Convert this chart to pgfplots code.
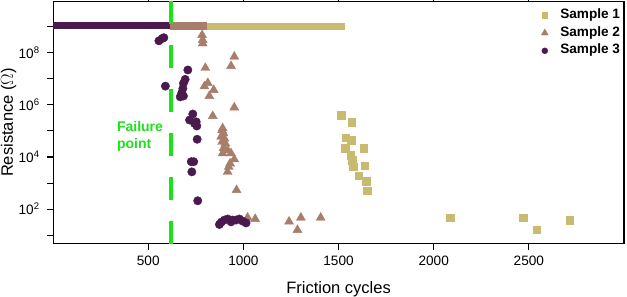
\documentclass[border=0pt]{standalone}
\usepackage{fontspec}
\setmainfont{Liberation Sans}
\usepackage{pgfplots}
\pgfplotsset{compat=1.18}
\definecolor{cA}{RGB}{200,186,110}
\definecolor{cB}{RGB}{168,125,106}
\definecolor{cC}{RGB}{74,26,78}
\definecolor{fgreen}{RGB}{30,225,30}
\begin{document}
\begin{tikzpicture}
\begin{axis}[
 scale only axis, width=570.9pt, height=242.2pt,
 at={(0,0)}, anchor=south west,
 xmin=0, xmax=3000, ymin=4.7, ymax=9.3e9, ymode=log,
 axis line style={line width=1.1pt},
 every tick/.style={black, line width=1.1pt},
 major tick length=6pt, tick align=outside,
 ytick pos=left,
 xtick={500,1000,1500,2000,2500},
 ytick={10,100,1000,1e4,1e5,1e6,1e7,1e8,1e9},
 yticklabels={,10\textsuperscript{2},,10\textsuperscript{4},,10\textsuperscript{6},,10\textsuperscript{8},},
 yminorticks=false,
 /pgf/number format/assume math mode=true,
 /pgf/number format/1000 sep={},
 tick label style={font=\fontsize{13.6}{16}\selectfont},
 xticklabel style={yshift=-3pt},
 yticklabel style={xshift=-4pt},
 label style={font=\fontsize{16.5}{19}\selectfont},
 xlabel={Friction cycles},
 ylabel={Resistance ($\Omega$)},
 xlabel style={at={(axis description cs:0.5,0)}, anchor=base, yshift=-49.5pt},
 ylabel style={at={(axis description cs:0,0.5)}, anchor=center, rotate=0, yshift=44.6pt},
 legend style={draw=none, fill=none, inner sep=0pt, outer sep=0pt,
   at={(rel axis cs:1,1)}, anchor=north east, xshift=-2.5pt, yshift=-4.8pt,
   font=\bfseries\fontsize{13.6}{16}\selectfont, column sep=10.5pt,
   nodes={inner sep=1.5pt, text height=10.5pt, text depth=4.3pt}},
 legend cell align=left,
]
% plateau bands
\addplot[cA, line width=6.7pt, forget plot] coordinates {(805,1.0e9) (1533,1.0e9)};
\addplot[cB, line width=8pt, forget plot] coordinates {(612,1.1e9) (808,1.1e9)};
\addplot[cC, line width=7.6pt, forget plot] coordinates {(-20,1.1e9) (612,1.1e9)};
% failure line
\addplot[fgreen, line width=3.8pt, dash pattern=on 23pt off 21pt, forget plot] coordinates {(620,4.7) (620,9.3e9)};
% Sample 1
\addplot[only marks, mark=square*, mark size=3.7pt, mark options={draw=cA, fill=cA}, legend image post style={mark size=2.8pt}] coordinates {
(1514,4.07e5) (1569,2.19e5) (1537,5.62e4) (1566,4.47e4) (1534,2.14e4) (1633,2.14e4)
(1563,1.17e4) (1572,7.59e3) (1575,5.5e3) (1577,4.17e3) (1638,4.57e3) (1607,1.91e3)
(1645,1.17e3) (1650,501) (2087,47.9) (2471,47.9) (2540,16.6) (2715,38.0)};
\addlegendentry{Sample 1}
% Sample 2
\addplot[only marks, mark=triangle*, mark size=5.2pt, mark options={draw=cB, fill=cB}, legend image post style={mark size=4pt}] coordinates {
(783,4.79e8) (786,3.09e8) (786,2.29e8) (952,7.08e7) (935,3.09e7) (800,2.63e7)
(813,6.92e6) (795,5.13e6) (844,3.72e6) (821,2.19e6) (952,7.94e5) (839,3.72e5)
(891,1.26e5) (888,1.07e5) (895,8.13e4) (883,6.03e4) (900,5.13e4) (888,3.80e4)
(905,3.31e4) (895,2.14e4) (917,1.82e4) (891,1.38e4) (935,1.38e4) (952,8.13e3)
(930,5.62e3) (923,4.17e3) (917,2.69e3) (964,537) (1022,46.8) (1062,41.7)
(1240,33.1) (1302,46.8) (1284,15.8) (1406,46.8)};
\addlegendentry{Sample 2}
% Sample 3
\addplot[only marks, mark=*, mark size=4.2pt, mark options={draw=cC, fill=cC}, legend image post style={mark size=3pt}] coordinates {
(556,2.88e8) (574,3.55e8) (582,3.80e8) (590,5.25e6) (708,2.19e7) (694,9.55e6)
(685,6.76e6) (682,4.27e6) (676,2.88e6) (668,2.04e6) (685,2.19e6) (734,4.47e5)
(717,2.63e5) (752,2.24e5) (755,1.55e5) (743,1.95e5) (757,4.79e4) (726,6.61e3)
(739,6.61e3) (729,2.69e3) (760,209) (874,25.7) (884,31.6) (900,38.0) (917,41.7)
(935,32.4) (942,38.0) (961,38.0) (979,41.7) (996,34.7) (1014,29.5)};
\addlegendentry{Sample 3}
\node[anchor=base west, inner sep=0pt, align=left, text=fgreen, font=\bfseries\fontsize{14}{17}\selectfont] at (axis cs:335,2.2e4) {Failure\\point};
\end{axis}
\pgfresetboundingbox
\path[use as bounding box] (-53.1pt,-53.3pt) rectangle (573.9pt,243.7pt);
\end{tikzpicture}
\end{document}
